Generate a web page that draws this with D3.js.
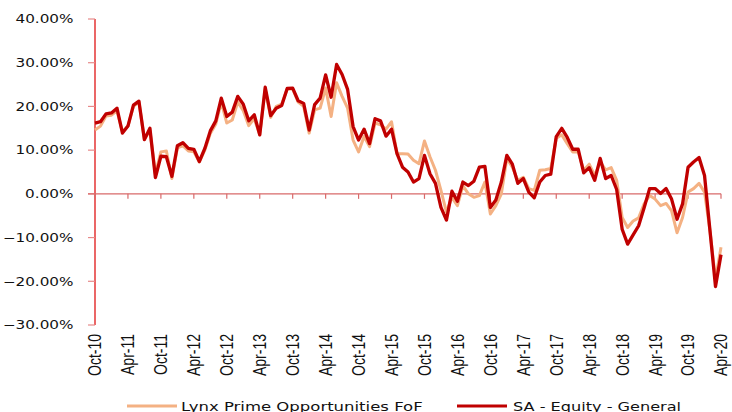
<!DOCTYPE html>
<html>
<head>
<meta charset="utf-8">
<script src="https://cdn.jsdelivr.net/npm/d3@7"></script>
<style>
  body { margin: 0; background: #fff; }
  svg { display: block; }
</style>
</head>
<body>
<svg id="chart"></svg>
<script>
// monthly returns (%), Oct-10 .. Apr-20
const lynx = [
  14.6, 15.5, 17.8, 18.0, 19.0, 14.2, 15.5, 20.0, 21.0, 12.5, 14.5, 4.5,
  9.6, 9.8, 3.5, 10.5, 11.0, 9.8, 9.6, 7.3, 10.0, 13.8, 16.0, 21.0,
  16.2, 16.9, 21.0, 19.0, 15.6, 17.2, 13.5, 24.0, 17.5, 20.0, 20.5, 24.0,
  24.0, 21.0, 20.0, 13.9, 19.2, 19.6, 24.2, 17.7, 25.4, 22.3, 19.6, 12.3,
  9.6, 13.1, 10.8, 16.2, 15.8, 14.8, 16.5, 9.2, 9.2, 9.1, 7.7, 6.9,
  12.1, 8.5, 5.4, 0.8, -4.2, -0.8, -2.7, 1.9, 0.0, -0.8, -0.4, 2.7,
  -4.6, -2.7, 0.0, 8.1, 6.1, 3.1, 3.8, 1.2, 0.8, 5.4, 5.5, 5.8,
  12.7, 13.5, 11.5, 9.6, 9.6, 5.4, 6.8, 4.2, 7.3, 5.5, 6.0, 3.1,
  -5.4, -7.7, -6.2, -5.5, -2.3, -0.4, -1.2, -2.7, -2.2, -3.9, -8.9, -5.4,
  0.4, 1.2, 2.4, 0.4, -8.5, -19.6, -12.2
];
const saEquity = [
  16.2, 16.5, 18.3, 18.5, 19.6, 13.9, 15.5, 20.3, 21.2, 12.4, 15.0, 3.7,
  8.6, 8.5, 4.0, 11.0, 11.7, 10.4, 10.2, 7.4, 10.4, 14.4, 16.7, 21.9,
  17.7, 18.7, 22.3, 20.5, 16.7, 18.1, 13.5, 24.4, 17.9, 19.6, 20.2, 24.1,
  24.2, 21.3, 20.7, 14.6, 20.4, 21.9, 27.2, 22.1, 29.6, 27.3, 23.9, 15.4,
  12.3, 14.8, 11.5, 17.2, 16.7, 13.2, 14.8, 9.2, 6.1, 5.0, 2.7, 3.5,
  8.8, 4.6, 2.4, -3.1, -6.0, 0.6, -1.7, 2.7, 1.9, 2.9, 6.1, 6.3,
  -3.1, -1.4, 2.7, 8.8, 6.8, 2.4, 3.5, 0.4, -0.9, 2.7, 4.2, 4.5,
  13.1, 15.0, 12.9, 10.2, 10.2, 4.8, 6.0, 3.1, 8.1, 3.5, 4.2, 1.0,
  -8.1, -11.5, -9.4, -7.3, -3.2, 1.2, 1.2, 0.1, 1.2, -1.2, -5.8, -2.3,
  6.1, 7.3, 8.3, 4.2, -8.5, -21.2, -13.9
];
const xTickLabels = [
  'Oct-10', 'Apr-11', 'Oct-11', 'Apr-12', 'Oct-12', 'Apr-13', 'Oct-13',
  'Apr-14', 'Oct-14', 'Apr-15', 'Oct-15', 'Apr-16', 'Oct-16', 'Apr-17',
  'Oct-17', 'Apr-18', 'Oct-18', 'Apr-19', 'Oct-19', 'Apr-20'
];
const yTicks = [40, 30, 20, 10, 0, -10, -20, -30];
const seriesNames = ['Lynx Prime Opportunities FoF', 'SA - Equity - General'];
const seriesColors = ['#f4b183', '#c00000'];
const seriesWidths = [3, 3.3];

const width = 732;
const height = 412;
const sx = 1.27; // picture is stretched sideways

const months = d3.timeMonth.range(new Date(2010, 9, 1), new Date(2020, 4, 1));
const fmt = d3.timeFormat('%b-%y');

const svg = d3.select('#chart').attr('width', width).attr('height', height);

const x = d3.scalePoint().domain(d3.range(months.length)).range([95, 721]);
const y = d3.scaleLinear().domain([-30, 40]).range([325, 19]);

// y axis
svg.append('line')
  .attr('x1', 95).attr('x2', 95)
  .attr('y1', y(40)).attr('y2', y(-30))
  .attr('stroke', '#dd0000').attr('stroke-width', 1.2);

svg.selectAll('.ytick')
  .data(yTicks)
  .join('line')
  .attr('x1', 88).attr('x2', 95)
  .attr('y1', d => y(d)).attr('y2', d => y(d))
  .attr('stroke', '#e78a8a').attr('stroke-width', 1.2);

svg.selectAll('.ylabel')
  .data(yTicks)
  .join('text')
  .attr('transform', d => `translate(73.5,${y(d)}) scale(${sx},1)`)
  .attr('dy', '0.36em')
  .attr('text-anchor', 'end')
  .style('font-family', 'DejaVu Sans')
  .style('font-size', '12px')
  .style('fill', '#111')
  .text(d => d3.format('.2f')(d) + '%');

// x axis at zero
svg.append('line')
  .attr('x1', 88).attr('x2', 721)
  .attr('y1', y(0)).attr('y2', y(0))
  .attr('stroke', '#d86a6a').attr('stroke-width', 1.2);

const tickIdx = d3.range(months.length).filter(i => xTickLabels.includes(fmt(months[i])));

svg.selectAll('.xtick')
  .data(tickIdx)
  .join('line')
  .attr('x1', d => x(d)).attr('x2', d => x(d))
  .attr('y1', y(0)).attr('y2', y(0) + 5)
  .attr('stroke', '#d86a6a').attr('stroke-width', 1.2);

svg.selectAll('.xlabel')
  .data(tickIdx)
  .join('text')
  .attr('transform', d => `translate(${x(d)},334) scale(${sx},1) rotate(-90)`)
  .attr('dy', '0.36em')
  .attr('text-anchor', 'end')
  .style('font-family', 'Liberation Sans')
  .style('font-size', '14px')
  .style('fill', '#111')
  .text(d => fmt(months[d]));

// lines
const line = d3.line()
  .x((d, i) => x(i))
  .y(d => y(d));

[lynx, saEquity].forEach((s, k) => {
  svg.append('path')
    .datum(s)
    .attr('d', line)
    .attr('fill', 'none')
    .attr('stroke', seriesColors[k])
    .attr('stroke-width', seriesWidths[k])
    .attr('stroke-linejoin', 'round');
});

// legend
const legendX = [127, 457];
seriesNames.forEach((name, k) => {
  const g = svg.append('g').attr('transform', `translate(${legendX[k]},406)`);
  g.append('line')
    .attr('x1', 0).attr('x2', 50)
    .attr('stroke', seriesColors[k]).attr('stroke-width', 3);
  g.append('text')
    .attr('transform', `translate(${k ? 56 : 54},4.5) scale(${sx},1)`)
    .style('font-family', 'DejaVu Sans')
    .style('font-size', k ? '12.7px' : '13px')
    .style('fill', '#111')
    .text(name);
});
</script>
</body>
</html>
